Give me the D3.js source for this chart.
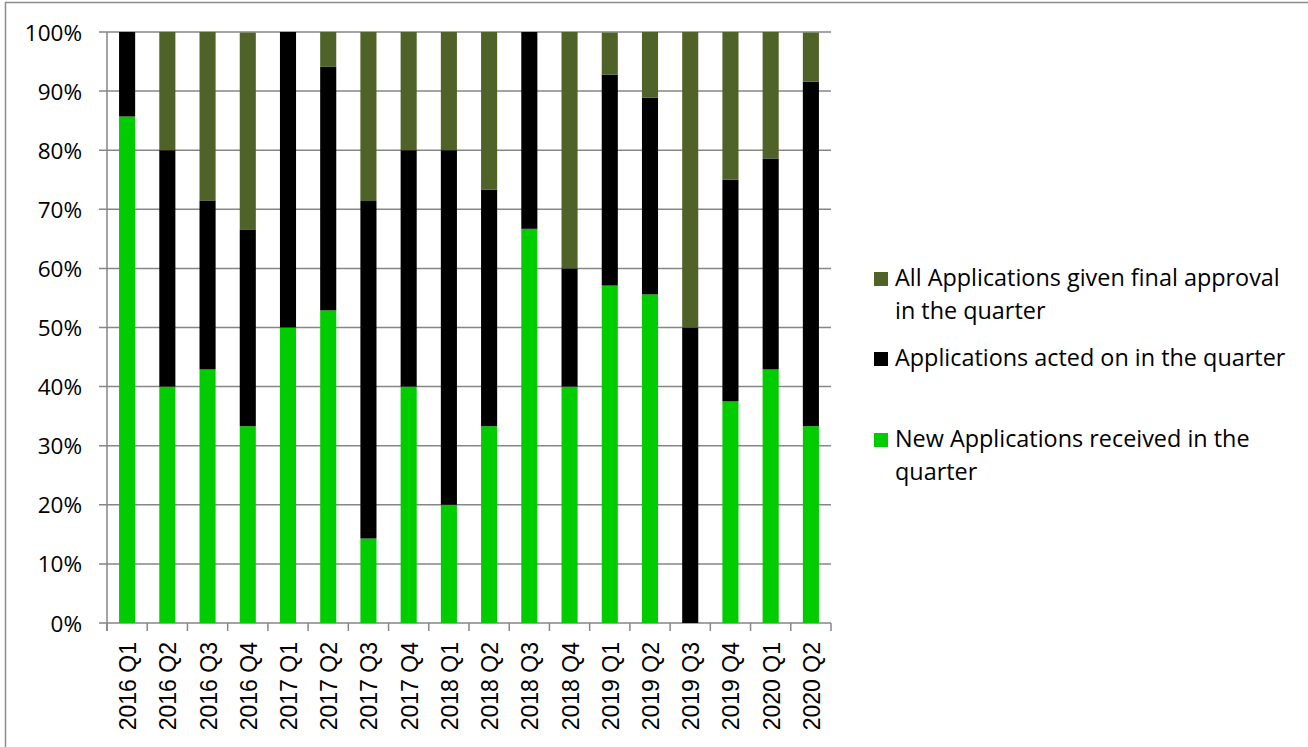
<!DOCTYPE html>
<html>
<head>
<meta charset="utf-8">
<script src="https://cdn.jsdelivr.net/npm/d3@7"></script>
<style>
  body { margin: 0; background: #fff; }
  svg { display: block; }
</style>
</head>
<body>
<script>
var width = 1308,
    height = 747;

// quarters along the x axis
var quarters = ['2016 Q1', '2016 Q2', '2016 Q3', '2016 Q4',
  '2017 Q1', '2017 Q2', '2017 Q3', '2017 Q4',
  '2018 Q1', '2018 Q2', '2018 Q3', '2018 Q4',
  '2019 Q1', '2019 Q2', '2019 Q3', '2019 Q4',
  '2020 Q1', '2020 Q2'];

// share of each series, in percent (bottom to top)
var newApps = [85.7, 40, 42.9, 33.3, 50, 52.9, 14.3, 40, 20, 33.3, 66.7, 40, 57.1, 55.6, 0, 37.5, 42.9, 33.3];
var actedOn = [14.3, 40, 28.6, 33.3, 50, 41.2, 57.1, 40, 60, 40, 33.3, 20, 35.7, 33.3, 50, 37.5, 35.7, 58.3];
var approved = [0, 20, 28.6, 33.3, 0, 5.9, 28.6, 20, 20, 26.7, 0, 40, 7.1, 11.1, 50, 25, 21.4, 8.3];

var yTicks = [0, 10, 20, 30, 40, 50, 60, 70, 80, 90, 100];

var seriesColors = ['#00cc00', '#000000', '#4f6228'];

var margin = {left: 107, right: 477, top: 32, bottom: 124};

var svg = d3.select('body')
  .append('svg')
  .attr('width', width)
  .attr('height', height);

// outer chart frame
svg.append('rect')
  .attr('x', 5.5)
  .attr('y', 2.5)
  .attr('width', width)
  .attr('height', height)
  .attr('fill', 'none')
  .attr('stroke', '#8c8c8c')
  .attr('stroke-width', 1.5);

var x = d3.scaleBand()
  .domain(quarters)
  .range([margin.left, width - margin.right])
  .paddingInner(0.6)
  .paddingOuter(0.3);

var y = d3.scaleLinear()
  .domain([0, 100])
  .range([height - margin.bottom, margin.top]);

// gridlines
svg.append('g')
  .selectAll('line')
  .data(yTicks)
  .enter().append('line')
  .attr('x1', margin.left - 8)
  .attr('x2', width - margin.right)
  .attr('y1', function (d) { return y(d); })
  .attr('y2', function (d) { return y(d); })
  .attr('stroke', '#868686')
  .attr('stroke-width', 1.5);

// y tick labels
svg.append('g')
  .selectAll('text')
  .data(yTicks)
  .enter().append('text')
  .attr('x', margin.left - 25)
  .attr('y', function (d) { return y(d) + 8.5; })
  .attr('text-anchor', 'end')
  .style('font-family', '"Open Sans", Lato, sans-serif')
  .style('font-size', '22.5px')
  .attr('fill', '#000')
  .text(function (d) { return d + '%'; });

// stacked bars
var rows = quarters.map(function (q, i) {
  return {quarter: q, s0: newApps[i], s1: actedOn[i], s2: approved[i]};
});
var stack = d3.stack().keys(['s0', 's1', 's2']);
var layers = stack(rows);

svg.append('g')
  .selectAll('g')
  .data(layers)
  .enter().append('g')
  .attr('fill', function (d, i) { return seriesColors[i]; })
  .selectAll('rect')
  .data(function (d) { return d; })
  .enter().append('rect')
  .attr('x', function (d) { return x(d.data.quarter); })
  .attr('width', x.bandwidth())
  .attr('y', function (d) { return y(Math.min(d[1], 100)); })
  .attr('height', function (d) { return Math.max(0, y(d[0]) - y(Math.min(d[1], 100))); });

// axis lines and category ticks
svg.append('line')
  .attr('x1', margin.left)
  .attr('x2', margin.left)
  .attr('y1', margin.top)
  .attr('y2', height - margin.bottom + 8)
  .attr('stroke', '#868686')
  .attr('stroke-width', 1.5);

var step = x.step();
var boundaries = d3.range(quarters.length + 1);
svg.append('g')
  .selectAll('line')
  .data(boundaries)
  .enter().append('line')
  .attr('x1', function (d) { return margin.left + d * step; })
  .attr('x2', function (d) { return margin.left + d * step; })
  .attr('y1', height - margin.bottom)
  .attr('y2', height - margin.bottom + 8)
  .attr('stroke', '#868686')
  .attr('stroke-width', 1.5);

// x tick labels, rotated
svg.append('g')
  .selectAll('text')
  .data(quarters)
  .enter().append('text')
  .attr('transform', function (d) {
    return 'translate(' + (x(d) + x.bandwidth() / 2 + 9) + ',' + (height - margin.bottom + 19) + ') rotate(-90)';
  })
  .attr('text-anchor', 'end')
  .style('font-family', '"Liberation Sans", Arial, sans-serif')
  .style('font-size', '23px')
  .attr('fill', '#000')
  .text(function (d) { return d; });

// legend
var legendInfo = [
  {lines: ['All Applications given final approval', 'in the quarter'], color: seriesColors[2], y_position: 286},
  {lines: ['Applications acted on in the quarter'], color: seriesColors[1], y_position: 366},
  {lines: ['New Applications received in the', 'quarter'], color: seriesColors[0], y_position: 447}
];

var legend = svg.append('g');
legend.selectAll('rect')
  .data(legendInfo)
  .enter().append('rect')
  .attr('x', 874)
  .attr('y', function (d) { return d.y_position - 14; })
  .attr('width', 14)
  .attr('height', 14)
  .attr('fill', function (d) { return d.color; });

legend.selectAll('text')
  .data(legendInfo)
  .enter().append('text')
  .attr('x', 895)
  .attr('y', function (d) { return d.y_position; })
  .style('font-family', '"Open Sans", Lato, sans-serif')
  .style('font-size', '23.4px')
  .attr('fill', '#000')
  .each(function (d) {
    var t = d3.select(this);
    d.lines.forEach(function (line, i) {
      t.append('tspan')
        .attr('x', 895)
        .attr('dy', i === 0 ? 0 : 33)
        .text(line);
    });
  });
</script>
</body>
</html>
